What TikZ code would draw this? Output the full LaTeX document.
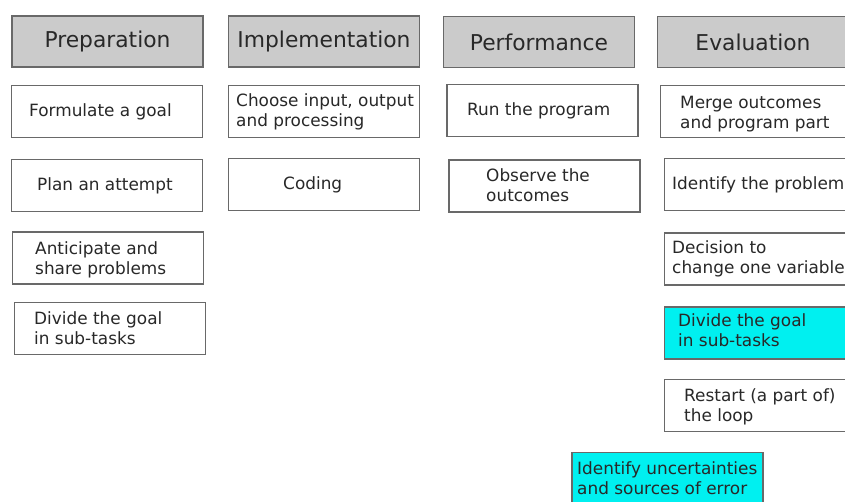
\documentclass[tikz,border=0pt]{standalone}
\usepackage{fontspec}
\setmainfont{DejaVu Sans}
\definecolor{hdrfill}{RGB}{203,203,203}
\definecolor{edge}{RGB}{105,105,105}
\definecolor{ink}{RGB}{40,40,40}
\definecolor{cyanfill}{RGB}{0,240,240}
\tikzset{
  hdr/.style={draw=edge, line width=1.3pt, fill=hdrfill, inner sep=0pt, outer sep=0pt,
    minimum width=191pt, minimum height=51pt, text=ink, font=\fontsize{21.8}{24}\selectfont},
  bx/.style={draw=edge, line width=1.1pt, fill=white, inner sep=0pt, outer sep=0pt,
    minimum width=191pt, minimum height=52pt},
  cbx/.style={bx, fill=cyanfill},
  txt/.style={inner sep=0pt, anchor=west, align=left, text=ink,
    font=\fontsize{16.9}{20}\selectfont},
}
\begin{document}
\begin{tikzpicture}[x=1pt,y=-1pt]
\useasboundingbox (0,0) rectangle (845,502);
\clip (0,0) rectangle (845,502);
% headers
\node[hdr] (h1) at (107.5,41.5) {Preparation};
\node[hdr] (h2) at (324,41.5) {Implementation};
\node[hdr] (h3) at (539,42) {Performance};
\node[hdr] (h4) at (753,42) {Evaluation};
% column 1
\node[bx] (p1) at (107,111.5) {};
\node[txt] (p1t) at (29,112) {Formulate a goal};
\node[bx] (p2) at (107,185.5) {};
\node[txt] (p2t) at (37,186) {Plan an attempt};
\node[bx] (p3) at (108,258) {};
\node[txt] (p3t) at (35,260) {Anticipate and\\share problems};
\node[bx] (p4) at (110,328.5) {};
\node[txt] (p4t) at (34,328) {Divide the goal\\in sub-tasks};
% column 2
\node[bx] (i1) at (324,111.5) {};
\node[txt] (i1t) at (236,112) {Choose input, output\\and processing};
\node[bx] (i2) at (324,184.5) {};
\node[txt] (i2t) at (283,185) {Coding};
% column 3
\node[bx] (r1) at (542.5,110.5) {};
\node[txt] (r1t) at (467,111) {Run the program};
\node[bx] (r2) at (544.5,186) {};
\node[txt] (r2t) at (486,185) {Observe the\\outcomes};
% column 4
\node[bx] (e1) at (756,111.5) {};
\node[txt] (e1t) at (680,114.5) {Merge outcomes\\and program part};
\node[bx] (e2) at (760,184.5) {};
\node[txt] (e2t) at (672,185) {Identify the problem};
\node[bx] (e3) at (760,259) {};
\node[txt] (e3t) at (672,259) {Decision to\\change one variable};
\node[cbx] (e4) at (760,333) {};
\node[txt] (e4t) at (678,330.5) {Divide the goal\\in sub-tasks};
\node[bx] (e5) at (760,405.5) {};
\node[txt] (e5t) at (684,406.5) {Restart (a part of)\\the loop};
% extra
\node[cbx] (u1) at (667.5,478.5) {};
\node[txt] (u1t) at (577,478) {Identify uncertainties\\and sources of error};
\end{tikzpicture}
\end{document}
